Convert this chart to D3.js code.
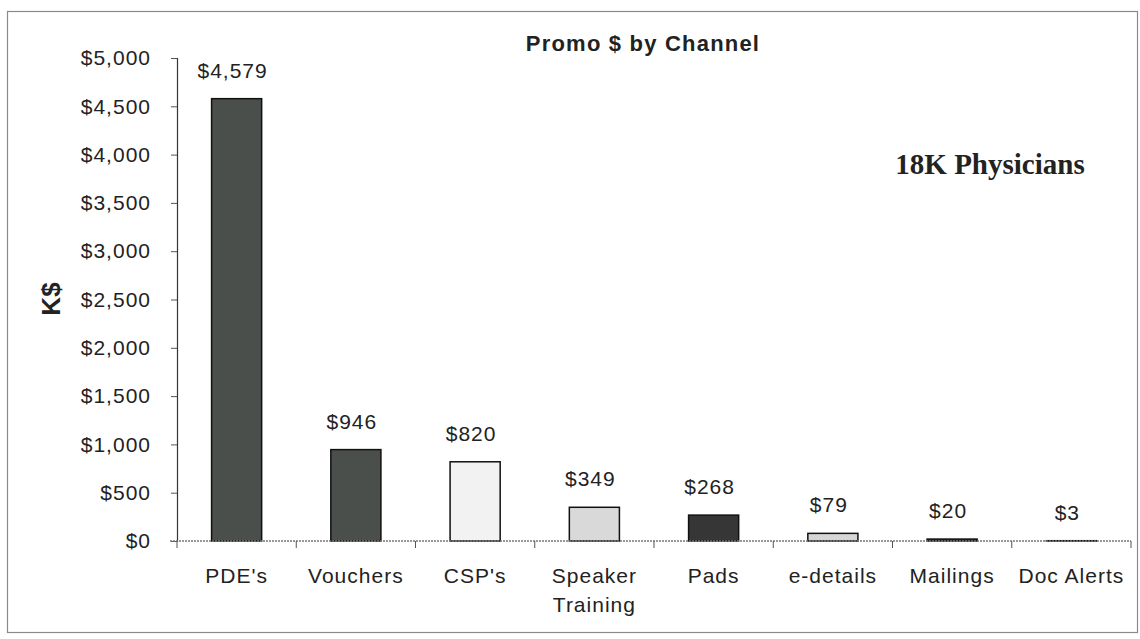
<!DOCTYPE html>
<html><head><meta charset="utf-8">
<script src="https://cdn.jsdelivr.net/npm/d3@7"></script>
<style>body{margin:0;background:#fff}svg{display:block}</style>
</head><body>
<svg id="c" width="1140" height="639"></svg>
<script>
const categories = ["PDE's", "Vouchers", "CSP's", "Speaker\nTraining", "Pads", "e-details", "Mailings", "Doc Alerts"];
const values = [4579, 946, 820, 349, 268, 79, 20, 3];
const fills = ["#4a4f4b", "#4a4f4b", "#f2f2f2", "#d9d9d9", "#363636", "#d6d6d6", "#363636", "#d6d6d6"];
const yTicks = [0, 500, 1000, 1500, 2000, 2500, 3000, 3500, 4000, 4500, 5000];
const title = "Promo $ by Channel";
const yTitle = "K$";
const note = "18K Physicians";

const svg = d3.select("#c");
const fmt = v => "$" + d3.format(",")(v);
const SANS = "Liberation Sans, Arial, sans-serif";

// frame
svg.append("rect").attr("x", 7.5).attr("y", 11.5).attr("width", 1130).attr("height", 621)
  .attr("fill", "#fff").attr("stroke", "#8a8a8a").attr("stroke-width", 1.2);

const x = d3.scaleBand().domain(categories).range([177, 1131]).paddingInner(0.58).paddingOuter(0.29);
const y = d3.scaleLinear().domain([0, 5000]).range([541, 58]);

// bars
svg.selectAll("rect.bar").data(values).join("rect").attr("class", "bar")
  .attr("x", (d, i) => x(categories[i]))
  .attr("width", x.bandwidth())
  .attr("y", d => y(d))
  .attr("height", d => y(0) - y(d))
  .attr("fill", (d, i) => fills[i])
  .attr("stroke", "#111").attr("stroke-width", 1.5);

// y axis
const ya = svg.append("g").attr("transform", "translate(177,0)")
  .call(d3.axisLeft(y).tickValues(yTicks).tickFormat(fmt).tickSize(6).tickPadding(20));
ya.select(".domain").attr("stroke", "#333").attr("stroke-width", 1.2);
ya.selectAll(".tick line").attr("stroke", "#555");
ya.selectAll("text").attr("font-family", SANS).attr("font-size", 21).attr("letter-spacing", 1).attr("fill", "#222");

// x axis
const xl = d3.scaleLinear().domain([0, categories.length]).range([177, 1131]);
const xa = svg.append("g").attr("transform", "translate(0,541)");
xa.append("line").attr("x1", 170).attr("x2", 1131).attr("y1", 0).attr("y2", 0)
  .attr("stroke", "#777").attr("stroke-width", 1.3).attr("stroke-dasharray", "2,1");
xa.selectAll("line.t").data(d3.range(categories.length + 1)).join("line").attr("class", "t")
  .attr("x1", d => xl(d)).attr("x2", d => xl(d)).attr("y1", 0).attr("y2", 7)
  .attr("stroke", "#555");
xa.selectAll("text").data(categories).join("text")
  .attr("x", d => x(d) + x.bandwidth() / 2)
  .attr("y", 42)
  .attr("text-anchor", "middle")
  .attr("font-family", SANS).attr("font-size", 21).attr("letter-spacing", 1).attr("fill", "#222")
  .each(function (d) {
    const parts = d.split("\n");
    d3.select(this).selectAll("tspan").data(parts).join("tspan")
      .attr("x", x(d) + x.bandwidth() / 2)
      .attr("dy", (p, i) => i === 0 ? 0 : 29)
      .text(p => p);
  });

// data labels
svg.selectAll("text.lbl").data(values).join("text").attr("class", "lbl")
  .attr("x", (d, i) => x(categories[i]) + x.bandwidth() / 2 - 4)
  .attr("y", d => y(d) - 21)
  .attr("text-anchor", "middle")
  .attr("font-family", SANS).attr("font-size", 21).attr("letter-spacing", 1).attr("fill", "#222")
  .text(fmt);

// title
svg.append("text").attr("x", 643).attr("y", 51).attr("text-anchor", "middle")
  .attr("font-family", SANS).attr("font-weight", "bold")
  .attr("font-size", 22).attr("letter-spacing", 1.2).attr("fill", "#222").text(title);

// y title
svg.append("text").attr("transform", "translate(60,299) rotate(-90)").attr("text-anchor", "middle")
  .attr("font-family", SANS).attr("font-weight", "bold")
  .attr("font-size", 26).attr("fill", "#222").text(yTitle);

// note
svg.append("text").attr("x", 990).attr("y", 174).attr("text-anchor", "middle")
  .attr("font-family", "Liberation Serif, Times New Roman, serif").attr("font-weight", "bold")
  .attr("font-size", 29).attr("fill", "#222").text(note);
</script>
</body></html>
